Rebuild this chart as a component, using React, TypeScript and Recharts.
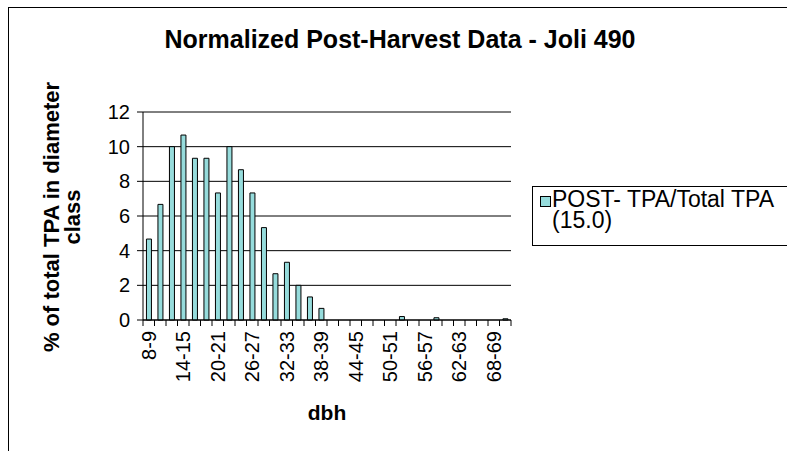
import React from 'react'
import {
  BarChart, Bar, XAxis, YAxis, CartesianGrid, Legend,
} from 'recharts'

// ── data ──

const dbhClasses = [
  '8-9', '10-11', '12-13', '14-15', '16-17', '18-19', '20-21', '22-23',
  '24-25', '26-27', '28-29', '30-31', '32-33', '34-35', '36-37', '38-39',
  '40-41', '42-43', '44-45', '46-47', '48-49', '50-51', '52-53', '54-55',
  '56-57', '58-59', '60-61', '62-63', '64-65', '66-67', '68-69', '70-71',
]

const postPct = [
  4.67, 6.67, 10.0, 10.67, 9.33, 9.33, 7.33, 10.0,
  8.67, 7.33, 5.33, 2.67, 3.33, 2.0, 1.33, 0.67,
  0, 0, 0, 0, 0, 0, 0.2, 0,
  0, 0.13, 0, 0, 0, 0, 0, 0.07,
]

const yTicks = [0, 2, 4, 6, 8, 10, 12]
const seriesName = 'POST- TPA/Total TPA (15.0)'

const data = dbhClasses.map((dbh, i) => ({ dbh, post: postPct[i] }))

// ── layout ──

const W = 787
const H = 451
const PLOT_LEFT = 143
const PLOT_RIGHT = 511
const PLOT_TOP = 112
const PLOT_BOTTOM = 320
const BAND = (PLOT_RIGHT - PLOT_LEFT) / dbhClasses.length
const FONT = '"Liberation Sans", Arial, sans-serif'
const BAR_FILL = '#96dcdc'

// Excel puts tick marks between categories and labels every third class
function DbhTick(props: any) {
  const { x, y, payload } = props
  const i = payload.index
  const last = i === dbhClasses.length - 1
  return (
    <g>
      <line x1={x - BAND / 2} x2={x - BAND / 2} y1={y} y2={y + 6} stroke="#000" />
      {last && <line x1={x + BAND / 2} x2={x + BAND / 2} y1={y} y2={y + 6} stroke="#000" />}
      {i % 3 === 0 && (
        <text
          x={x}
          y={y + 11}
          dy="0.35em"
          textAnchor="end"
          transform={`rotate(-90, ${x}, ${y + 11})`}
          fontSize={20}
          fill="#000"
        >
          {payload.value}
        </text>
      )}
    </g>
  )
}

// legend box runs off the right edge in the original, so no right border
function LegendBox({ payload }: any) {
  return (
    <div
      style={{
        boxSizing: 'border-box',
        width: 300,
        height: 60,
        border: '1px solid #000',
        borderRight: 'none',
        background: '#fff',
        padding: '2px 0 0 7px',
        fontFamily: FONT,
        fontSize: 23,
        lineHeight: '21px',
        color: '#000',
      }}
    >
      {(payload || []).map((p: any) => (
        <div key={p.value} style={{ display: 'flex', alignItems: 'flex-start' }}>
          <span
            style={{
              display: 'inline-block',
              width: 9,
              height: 9,
              marginTop: 7,
              marginRight: 1,
              border: '1px solid #000',
              background: BAR_FILL,
              flexShrink: 0,
            }}
          />
          <span style={{ width: 245 }}>{p.value}</span>
        </div>
      ))}
    </div>
  )
}

export default function App() {
  return (
    <div
      style={{
        position: 'absolute',
        left: 0,
        top: 0,
        width: W,
        height: H,
        overflow: 'hidden',
        background: '#fff',
        fontFamily: FONT,
      }}
    >
      <div
        style={{
          position: 'absolute',
          left: 8,
          top: 7,
          width: 900,
          height: 600,
          border: '1px solid #000',
        }}
      />
      <div style={{ position: 'absolute', left: 0, top: 0 }}>
        <BarChart
          width={W}
          height={H}
          data={data}
          margin={{ top: PLOT_TOP, right: W - PLOT_RIGHT, left: PLOT_LEFT - 60, bottom: 0 }}
          barCategoryGap="30%"
          style={{ fontFamily: FONT }}
        >
          <text x={400} y={48} textAnchor="middle" fontSize={25} fontWeight="bold" fill="#000">
            Normalized Post-Harvest Data - Joli 490
          </text>
          <CartesianGrid vertical={false} stroke="#000" strokeDasharray="" />
          <XAxis
            dataKey="dbh"
            height={H - PLOT_BOTTOM}
            interval={0}
            tickLine={false}
            tickSize={0}
            tickMargin={0}
            axisLine={{ stroke: '#000' }}
            tick={<DbhTick />}
            label={{
              content: ({ viewBox }: any) => (
                <text
                  x={viewBox.x + viewBox.width / 2}
                  y={viewBox.y + 100}
                  textAnchor="middle"
                  fontSize={21}
                  fontWeight="bold"
                  fill="#000"
                >
                  dbh
                </text>
              ),
            }}
          />
          <XAxis
            xAxisId="top"
            dataKey="dbh"
            orientation="top"
            height={0}
            tick={false}
            tickLine={false}
            axisLine={{ stroke: '#808080', strokeWidth: 2 }}
          />
          <YAxis
            width={60}
            domain={[0, 12]}
            ticks={yTicks}
            interval={0}
            tickSize={6}
            tickMargin={7}
            axisLine={{ stroke: '#000' }}
            tickLine={{ stroke: '#000' }}
            tick={{ fill: '#000', fontSize: 20 }}
            label={{
              content: () => (
                <g fontWeight="bold" fontSize={22} fill="#000">
                  <text x={59} y={217} textAnchor="middle" transform="rotate(-90, 59, 217)">
                    % of total TPA in diameter
                  </text>
                  <text x={80} y={217} textAnchor="middle" transform="rotate(-90, 80, 217)">
                    class
                  </text>
                </g>
              ),
            }}
          />
          <YAxis
            yAxisId="right"
            orientation="right"
            width={0}
            domain={[0, 12]}
            tick={false}
            tickLine={false}
            axisLine={{ stroke: '#808080', strokeWidth: 2 }}
          />
          <Legend
            layout="vertical"
            align="center"
            verticalAlign="middle"
            wrapperStyle={{ left: 532, top: 186, width: 300 }}
            content={<LegendBox />}
          />
          <Bar
            dataKey="post"
            name={seriesName}
            fill={BAR_FILL}
            stroke="#000"
            strokeWidth={1}
            isAnimationActive={false}
          />
        </BarChart>
      </div>
    </div>
  )
}
